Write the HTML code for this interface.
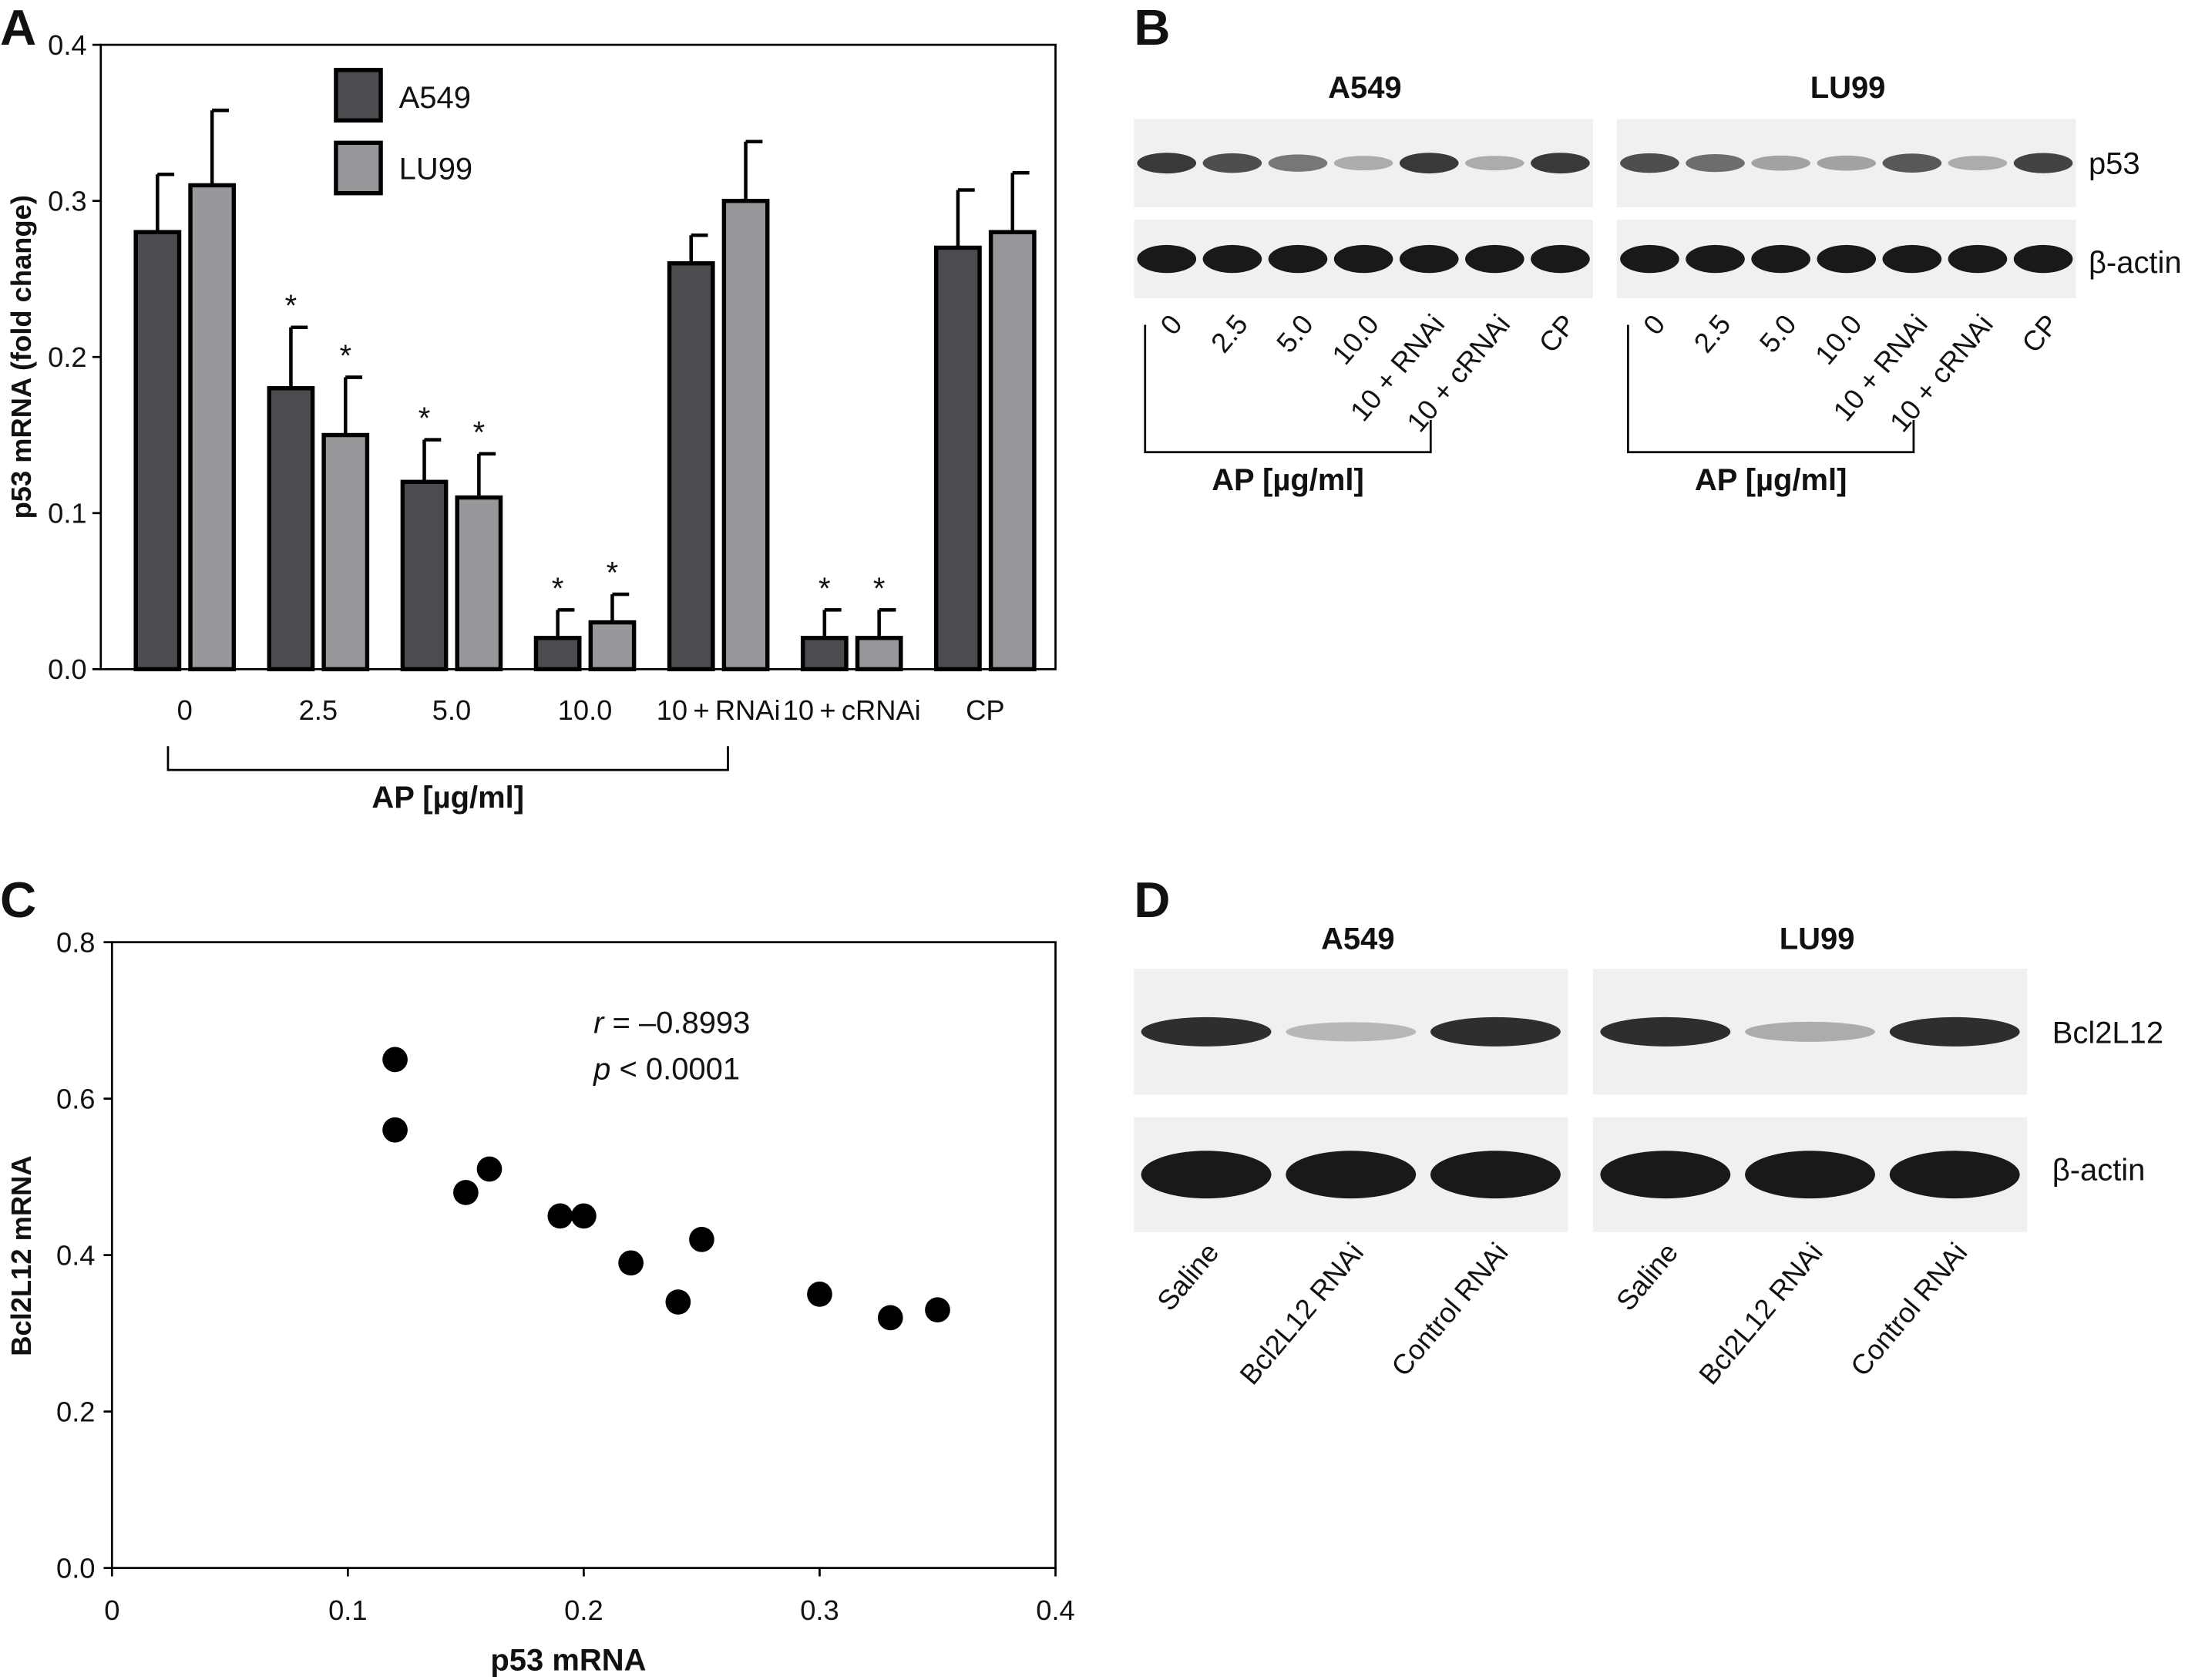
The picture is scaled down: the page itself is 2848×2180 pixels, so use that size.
<!DOCTYPE html>
<html><head><meta charset="utf-8"><style>html,body{margin:0;padding:0;background:#fff}svg{display:block}text{font-family:"Liberation Sans",sans-serif;fill:#111}</style></head>
<body>
<svg id="fig" xmlns="http://www.w3.org/2000/svg" width="2848" height="2180" viewBox="0 0 1568 1200" preserveAspectRatio="none">
<rect width="1568" height="1200" fill="#fff"/>
<g id="panelA"></g>
<g id="panelB"></g>
<g id="panelC"></g>
<g id="panelD"></g>
</svg>
<script>
const categories=["0","2.5","5.0","10.0","10\u2009+\u2009RNAi","10\u2009+\u2009cRNAi","CP"];
const a549Values=[0.28,0.18,0.12,0.02,0.26,0.02,0.27];
const a549ErrTop=[0.317,0.219,0.147,0.038,0.278,0.038,0.307];
const lu99Values=[0.31,0.15,0.11,0.03,0.30,0.02,0.28];
const lu99ErrTop=[0.358,0.187,0.138,0.048,0.338,0.038,0.318];
const starred=[false,true,true,true,false,true,false];
const yTicksA=[0,0.1,0.2,0.3,0.4];
const scatterX=[0.12,0.12,0.15,0.16,0.19,0.20,0.22,0.24,0.25,0.30,0.33,0.35];
const scatterY=[0.65,0.56,0.48,0.51,0.45,0.45,0.39,0.34,0.42,0.35,0.32,0.33];
const xTicksC=[0,0.1,0.2,0.3,0.4];
const yTicksC=[0,0.2,0.4,0.6,0.8];
const blotBLanes=["0","2.5","5.0","10.0","10 + RNAi","10 + cRNAi","CP"];
const p53A549=[0.85,0.75,0.55,0.3,0.85,0.3,0.85];
const p53LU99=[0.75,0.6,0.35,0.35,0.7,0.3,0.8];
const blotDLanes=["Saline","Bcl2L12 RNAi","Control RNAi"];
const bclA549=[0.9,0.25,0.9];
const bclLU99=[0.9,0.3,0.9];
const NS="http://www.w3.org/2000/svg";
function mk(parent,tag,attrs,txt){const e=document.createElementNS(NS,tag);for(const k in attrs)e.setAttribute(k,attrs[k]);if(txt!==undefined)e.textContent=txt;parent.appendChild(e);return e;}
// Panel A
const A=document.getElementById('panelA');
const yA=v=>478-v/0.4*446;
const xA=i=>97+i*95.3;
mk(A,'text',{x:0,y:32,'font-size':36,'font-weight':'bold'},'A');
yTicksA.forEach(t=>{const l=mk(A,'line',{x1:66,x2:72,y1:yA(t),y2:yA(t),stroke:'#000','stroke-width':1.5});
const tx=mk(A,'text',{x:62,y:yA(t)+7,'font-size':20,'text-anchor':'end'},t.toFixed(1));});
const yt=mk(A,'text',{x:0,y:0,'font-size':20,'font-weight':'bold','text-anchor':'middle',transform:'translate(22,255) rotate(-90)'},'p53 mRNA (fold change)');

categories.forEach((c,i)=>{
 [[a549Values,a549ErrTop,'#4a4c50',0],[lu99Values,lu99ErrTop,'#96989c',39]].forEach(([vals,errs,col,off])=>{
  const x=xA(i)+off,cx=x+15.5;
  const el=mk(A,'line',{x1:cx,x2:cx,y1:yA(vals[i]),y2:yA(errs[i]),stroke:'#000','stroke-width':2.5});
  mk(A,'line',{x1:cx,x2:cx+12,y1:yA(errs[i]),y2:yA(errs[i]),stroke:'#000','stroke-width':2.5});
  const b=mk(A,'rect',{x:x,y:yA(vals[i]),width:31,height:yA(0)-yA(vals[i]),fill:col,stroke:'#000','stroke-width':3});
  
  if(starred[i]){const s=mk(A,'text',{x:cx,y:yA(errs[i])-8,'font-size':22,'text-anchor':'middle'},'*');}
 });
 const lb=mk(A,'text',{x:xA(i)+35,y:514,'font-size':20,'text-anchor':'middle'},c);
});
mk(A,'path',{d:'M72 32 H754 V478 H72 Z',fill:'none',stroke:'#000','stroke-width':1.5});
mk(A,'path',{d:'M120 533 V550 H520 V533',fill:'none',stroke:'#000','stroke-width':1.5});
mk(A,'text',{x:320,y:577,'font-size':22,'font-weight':'bold','text-anchor':'middle'},'AP [µg/ml]');
const lg1=mk(A,'rect',{x:240,y:50,width:32,height:36,fill:'#4a4c50',stroke:'#000','stroke-width':3});
mk(A,'text',{x:285,y:77,'font-size':22},'A549');
const lg2=mk(A,'rect',{x:240,y:102,width:32,height:36,fill:'#96989c',stroke:'#000','stroke-width':3});
mk(A,'text',{x:285,y:128,'font-size':22},'LU99');
// Blot helper
function blot(g,x,y,w,h,n,vals,bh){
 mk(g,'rect',{x:x,y:y,width:w,height:h,fill:'#f0f0f0'});
 const lw=w/n;
 vals.forEach((v,i)=>{const c=Math.round(235-210*v);const e=mk(g,'ellipse',{cx:x+lw*(i+0.5),cy:y+h/2,rx:lw*0.45,ry:bh*(0.5+0.5*v),fill:`rgb(${c},${c},${c})`});});
}
// Panel B
const B=document.getElementById('panelB');
mk(B,'text',{x:810,y:32,'font-size':36,'font-weight':'bold'},'B');
[[810,'A549',p53A549],[1155,'LU99',p53LU99]].forEach(([x0,name,vals])=>{
 mk(B,'text',{x:x0+165,y:70,'font-size':22,'font-weight':'bold','text-anchor':'middle'},name);
 blot(B,x0,85,328,63,7,vals,8);
 blot(B,x0,157,328,56,7,[1,1,1,1,1,1,1],10);
 blotBLanes.forEach((l,i)=>{const cx=x0+328/7*(i+0.5);mk(B,'text',{x:0,y:0,'font-size':20,'text-anchor':'end',transform:`translate(${cx+12},${232}) rotate(-50)`},l);});
 mk(B,'path',{d:`M${x0+8} 232 V323 H${x0+212} V300`,fill:'none',stroke:'#000','stroke-width':1.5});
 mk(B,'text',{x:x0+110,y:350,'font-size':22,'font-weight':'bold','text-anchor':'middle'},'AP [µg/ml]');
});
mk(B,'text',{x:1492,y:124,'font-size':22},'p53');
mk(B,'text',{x:1492,y:195,'font-size':22},'β-actin');
// Panel C
const C=document.getElementById('panelC');
const xC=v=>80+v/0.4*674, yC=v=>1120-v/0.8*447;
mk(C,'text',{x:0,y:655,'font-size':36,'font-weight':'bold'},'C');
mk(C,'path',{d:'M80 673 H754 V1120 H80 Z',fill:'none',stroke:'#000','stroke-width':1.5});
yTicksC.forEach(t=>{mk(C,'line',{x1:74,x2:80,y1:yC(t),y2:yC(t),stroke:'#000','stroke-width':1.5});const tx=mk(C,'text',{x:68,y:yC(t)+7,'font-size':20,'text-anchor':'end'},t.toFixed(1));});
xTicksC.forEach(t=>{mk(C,'line',{x1:xC(t),x2:xC(t),y1:1120,y2:1126,stroke:'#000','stroke-width':1.5});const tx=mk(C,'text',{x:xC(t),y:1157,'font-size':20,'text-anchor':'middle'},t===0?'0':t.toFixed(1));});
scatterX.forEach((v,i)=>{const p=mk(C,'circle',{cx:xC(v),cy:yC(scatterY[i]),r:9,fill:'#000'});});
mk(C,'text',{x:0,y:0,'font-size':20,'font-weight':'bold','text-anchor':'middle',transform:'translate(22,897) rotate(-90)'},'Bcl2L12 mRNA');
mk(C,'text',{x:406,y:1193,'font-size':22,'font-weight':'bold','text-anchor':'middle'},'p53 mRNA');
const r=mk(C,'text',{x:424,y:738,'font-size':22});r.innerHTML='<tspan font-style="italic">r</tspan> = –0.8993';
const pp=mk(C,'text',{x:424,y:771,'font-size':22});pp.innerHTML='<tspan font-style="italic">p</tspan> &lt; 0.0001';
// Panel D
const D=document.getElementById('panelD');
mk(D,'text',{x:810,y:655,'font-size':36,'font-weight':'bold'},'D');
[[810,'A549',bclA549],[1138,'LU99',bclLU99]].forEach(([x0,name,vals])=>{
 mk(D,'text',{x:x0+160,y:678,'font-size':22,'font-weight':'bold','text-anchor':'middle'},name);
 blot(D,x0,692,310,90,3,vals,11);
 blot(D,x0,798,310,82,3,[1,1,1],17);
 blotDLanes.forEach((l,i)=>{const cx=x0+310/3*(i+0.5);mk(D,'text',{x:0,y:0,'font-size':20,'text-anchor':'end',transform:`translate(${cx+10},${895}) rotate(-50)`},l);});
});
mk(D,'text',{x:1466,y:745,'font-size':22},'Bcl2L12');
mk(D,'text',{x:1466,y:843,'font-size':22},'β-actin');
</script>
</body></html>
